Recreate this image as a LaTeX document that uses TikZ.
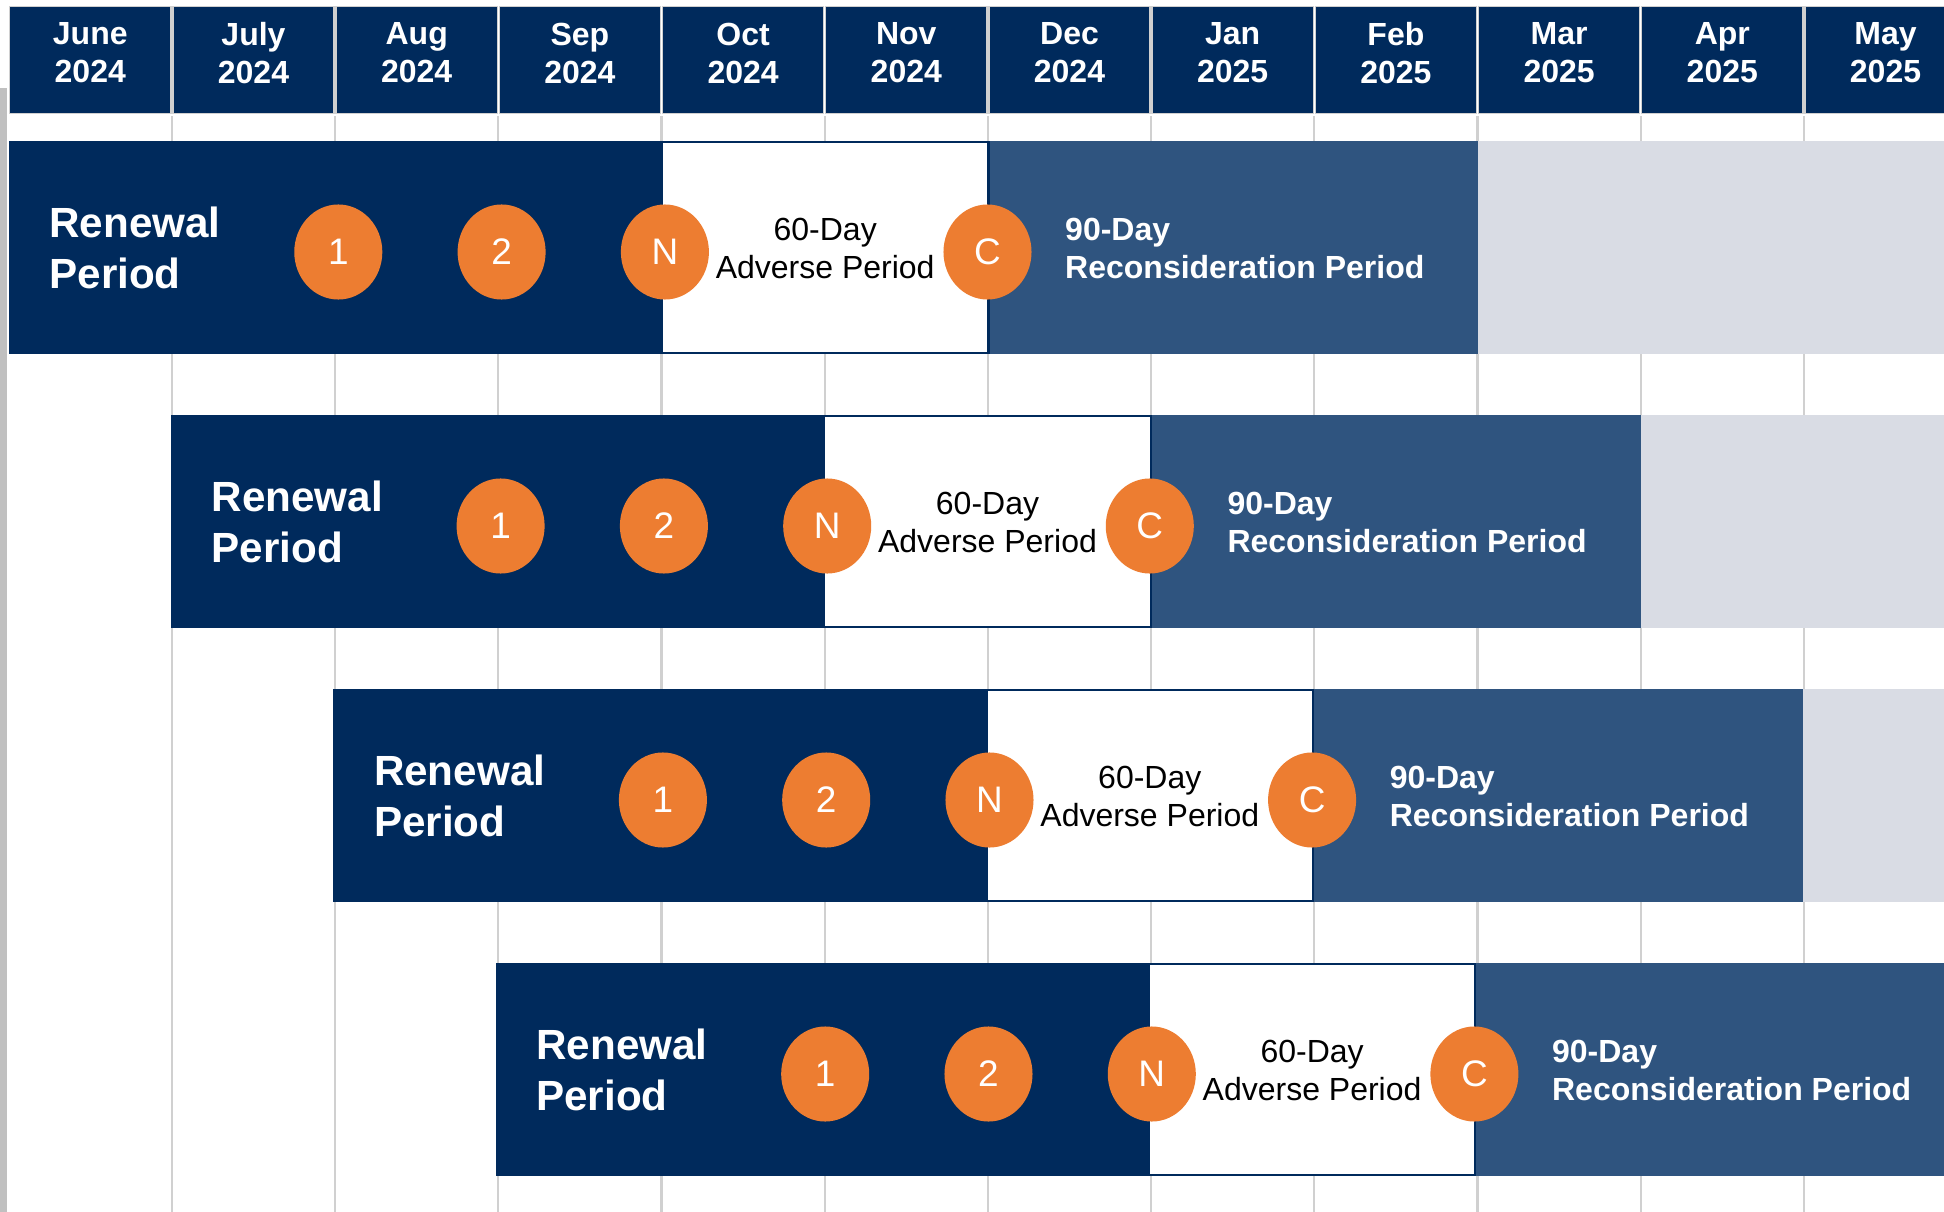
\documentclass[tikz,border=0pt]{standalone}
\usepackage{fontspec}
\setmainfont{Liberation Sans}
\usetikzlibrary{shapes.geometric}

\definecolor{navy}{HTML}{002A5C}
\definecolor{midblue}{HTML}{2F547F}
\definecolor{pale}{HTML}{D9DCE4}
\definecolor{dot}{HTML}{ED7D31}
\definecolor{gridgrey}{HTML}{D0D0D0}
\definecolor{edgegrey}{HTML}{C0C0C0}

\tikzset{
    monthcell/.style={fill=navy, draw=gridgrey, line width=0.4pt, minimum width=1.61cm, minimum height=1.07cm, inner sep=0pt},
    monthtext/.style={inner sep=0pt, align=center, text=white, font=\fontsize{9.1}{10.8}\selectfont\bfseries},
    badge/.style={ellipse, fill=dot, minimum width=0.88cm, minimum height=0.95cm, inner sep=0pt,
        text=white, font=\fontsize{10.5}{12}\selectfont},
    renewal/.style={anchor=west, inner sep=0pt, align=left, text=white, font=\fontsize{12}{14.5}\selectfont\bfseries},
    adverse/.style={inner sep=0pt, align=center, text=black, font=\fontsize{9.1}{10.8}\selectfont},
    recon/.style={anchor=west, inner sep=0pt, align=left, text=white, font=\fontsize{9.1}{10.8}\selectfont\bfseries}
}

\begin{document}
\begin{tikzpicture}[x=0.01cm,y=-0.01cm]

    \useasboundingbox (0,0) rectangle (1944,1212);
    \clip (0,0) rectangle (1944,1212);
    \def\cw{163.2}
    \def\bw{163.3}

    \fill[edgegrey] (0,88) rectangle (7,1212);
    %gridlines
    \foreach \k in {1,...,12}
        \draw[gridgrey, line width=0.6pt] ({8.7+\cw*\k},116) -- ({8.7+\cw*\k},1212);

    %header
    \foreach \m/\yr [count=\k from 0] in {June/2024,July/2024,Aug/2024,Sep/2024,Oct/2024,Nov/2024,
            Dec/2024,Jan/2025,Feb/2025,Mar/2025,Apr/2025,May/2025} {
        \node[monthcell] (m\k) at ({8.7+\cw*(\k+0.5)},60) {};
        \node[monthtext] (t\k) at ([yshift=0.07cm]m\k.center) {\m\\\yr};
    }

    %rows
    \foreach \i in {0,...,3} {
        \pgfmathsetmacro{\rowtop}{141+274*\i}
        \pgfmathsetmacro{\rowbot}{\rowtop+213}
        \pgfmathsetmacro{\rowmid}{\rowtop+107}
        \pgfmathsetmacro{\xs}{8.7+162.3*\i}
        \fill[pale] ({\xs+9*\bw},\rowtop) rectangle (1944,\rowbot);
        \fill[midblue] ({\xs+6*\bw},\rowtop) rectangle ({\xs+9*\bw},\rowbot);
        \fill[navy] (\xs,\rowtop) rectangle ({\xs+4*\bw},\rowbot);
        \draw[navy, line width=0.6pt, fill=white] ({\xs+4*\bw},\rowtop+1) rectangle ({\xs+6*\bw},\rowbot-1);

        \node[renewal] (ren\i) at ({\xs+40},\rowmid) {Renewal\\Period};
        \node[badge] (one\i) at ({\xs+2*\bw+3},\rowmid+4) {1};
        \node[badge] (two\i) at ({\xs+3*\bw+3},\rowmid+4) {2};
        \node[badge] (not\i) at ({\xs+4*\bw+3},\rowmid+4) {N};
        \node[adverse] (adv\i) at ({\xs+5*\bw},\rowmid) {60-Day\\Adverse Period};
        \node[badge] (con\i) at ({\xs+6*\bw-1},\rowmid+4) {C};
        \node[recon] (rec\i) at ({\xs+6*\bw+76},\rowmid) {90-Day\\Reconsideration Period};
    }

\end{tikzpicture}
\end{document}
